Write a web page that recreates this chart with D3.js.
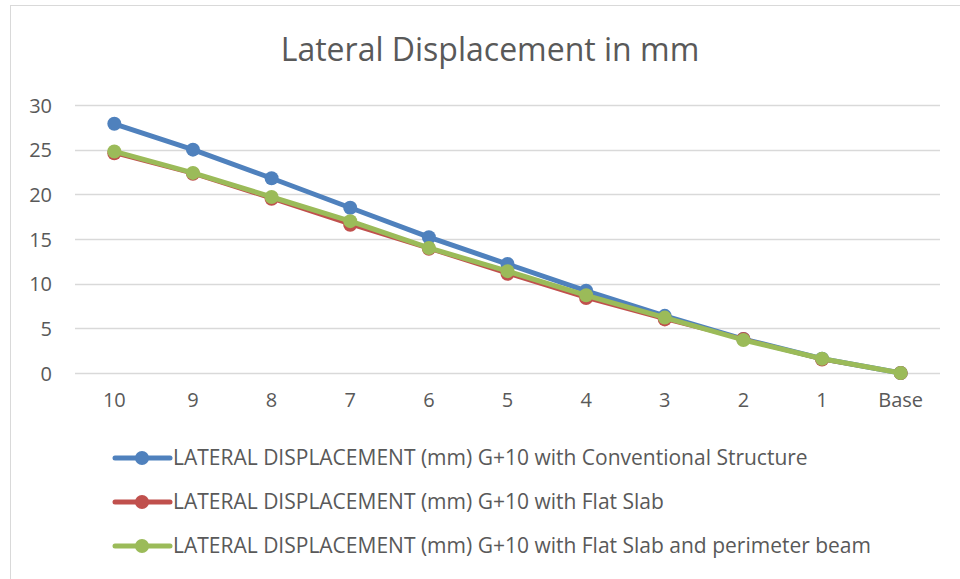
<!DOCTYPE html>
<html>
<head>
<meta charset="utf-8">
<script src="https://cdn.jsdelivr.net/npm/d3@7"></script>
<style>
  body { margin: 0; background: #fff; }
  text { font-family: "Open Sans", sans-serif; fill: #595959; }
</style>
</head>
<body>
<div id="chart"></div>
<script>
// storeys, top to bottom
var storeys = ["10", "9", "8", "7", "6", "5", "4", "3", "2", "1", "Base"];
var conventional = [27.9, 25.0, 21.8, 18.5, 15.2, 12.2, 9.2, 6.4, 3.8, 1.6, 0];
var flatSlab = [24.6, 22.3, 19.5, 16.6, 13.9, 11.1, 8.4, 6.0, 3.8, 1.5, 0];
var flatSlabBeam = [24.8, 22.4, 19.7, 17.0, 14.0, 11.4, 8.7, 6.2, 3.7, 1.6, 0];
var yTicks = [0, 5, 10, 15, 20, 25, 30];
var seriesNames = [
  "LATERAL DISPLACEMENT (mm) G+10 with Conventional Structure",
  "LATERAL DISPLACEMENT (mm) G+10 with Flat Slab",
  "LATERAL DISPLACEMENT (mm) G+10 with Flat Slab and perimeter beam"
];

var series = [
  { name: seriesNames[0], values: conventional, color: "#4f81bd", width: 5, r: 7 },
  { name: seriesNames[1], values: flatSlab, color: "#c0504d", width: 3.5, r: 7 },
  { name: seriesNames[2], values: flatSlabBeam, color: "#9bbb59", width: 5, r: 7 }
];

var width = 960, height = 579;
var svg = d3.select("#chart").append("svg")
    .attr("width", width)
    .attr("height", height);

// chart border (only top/left visible in the crop)
svg.append("rect")
    .attr("x", 10.5).attr("y", 5.5)
    .attr("width", 970).attr("height", 600)
    .attr("fill", "none")
    .attr("stroke", "#d9d9d9");

svg.append("text")
    .attr("x", 490).attr("y", 61)
    .attr("text-anchor", "middle")
    .style("font-size", "32px")
    .text("Lateral Displacement in mm");

var x = d3.scaleBand().domain(storeys).range([75, 940]);
var y = d3.scaleLinear().domain([0, 30]).range([373, 105]);

var gGrid = svg.append("g");
gGrid.selectAll("line")
    .data(yTicks)
    .enter().append("line")
    .attr("x1", 75).attr("x2", 940)
    .attr("y1", function(d) { return Math.round(y(d)) + 0.5; })
    .attr("y2", function(d) { return Math.round(y(d)) + 0.5; })
    .attr("stroke", "#d9d9d9")
    .attr("stroke-width", 1.5);

var yAxis = svg.append("g")
    .attr("transform", "translate(52,0)")
    .call(d3.axisLeft(y).tickValues(yTicks).tickSize(0).tickPadding(0));
yAxis.select(".domain").remove();
yAxis.selectAll("text").style("font-size", "20px").attr("dy", "0.35em");

var xAxis = svg.append("g")
    .attr("transform", "translate(0,393)")
    .call(d3.axisBottom(x).tickSize(0).tickPadding(0));
xAxis.select(".domain").remove();
xAxis.selectAll("text").style("font-size", "20px").attr("dy", "0.71em");

var line = d3.line()
    .x(function(d, i) { return x(storeys[i]) + x.bandwidth() / 2; })
    .y(function(d) { return y(d); });

var gSeries = svg.selectAll("g.series")
    .data(series)
    .enter().append("g")
    .attr("class", "series");

gSeries.append("path")
    .attr("d", function(d) { return line(d.values); })
    .attr("fill", "none")
    .attr("stroke", function(d) { return d.color; })
    .attr("stroke-width", function(d) { return d.width; })
    .attr("stroke-linejoin", "round")
    .attr("stroke-linecap", "round");

gSeries.selectAll("circle")
    .data(function(d) { return d.values.map(function(v, i) { return { v: v, i: i, s: d }; }); })
    .enter().append("circle")
    .attr("cx", function(d) { return x(storeys[d.i]) + x.bandwidth() / 2; })
    .attr("cy", function(d) { return y(d.v); })
    .attr("r", function(d) { return d.s.r; })
    .attr("fill", function(d) { return d.s.color; });

// legend
var legend = svg.selectAll("g.legend")
    .data(series)
    .enter().append("g")
    .attr("class", "legend")
    .attr("transform", function(d, i) { return "translate(0," + (458 + i * 44) + ")"; });

legend.append("line")
    .attr("x1", 115).attr("x2", 170)
    .attr("stroke", function(d) { return d.color; })
    .attr("stroke-width", 5)
    .attr("stroke-linecap", "round");
legend.append("circle")
    .attr("cx", 142).attr("r", 7)
    .attr("fill", function(d) { return d.color; });
legend.append("text")
    .attr("x", 173)
    .attr("dy", "0.35em")
    .style("font-size", "21px")
    .text(function(d) { return d.name; });
</script>
</body>
</html>
